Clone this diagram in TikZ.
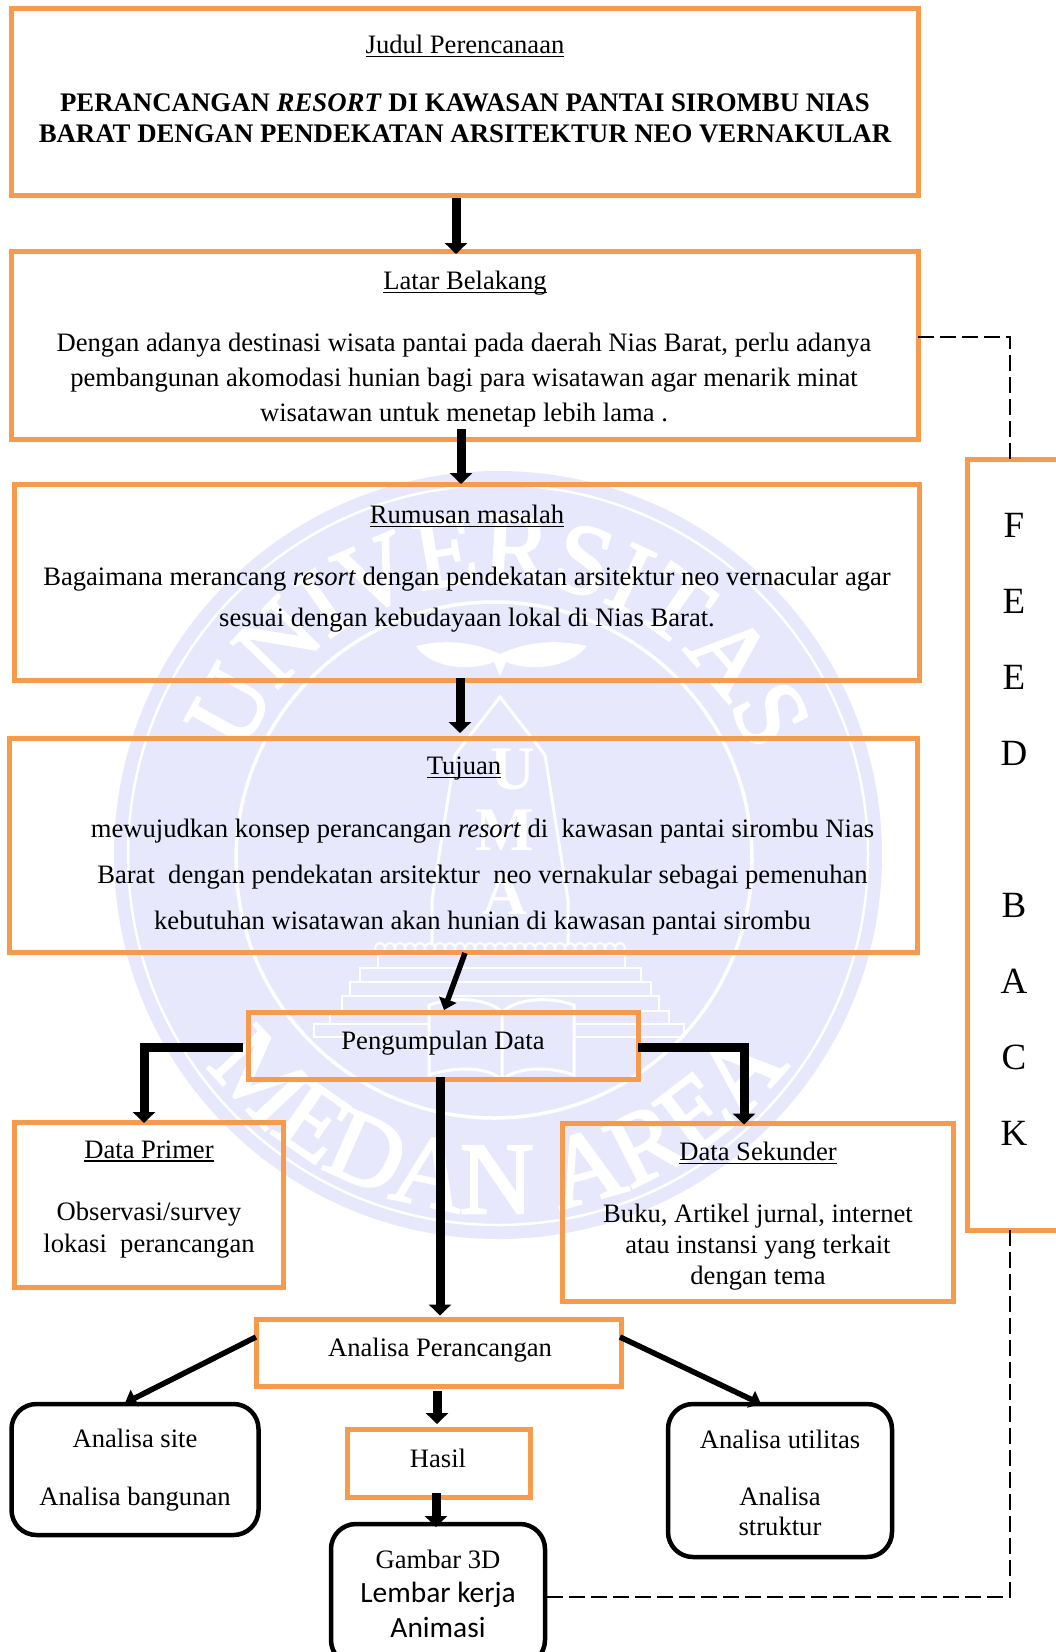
\documentclass[tikz,border=0pt]{standalone}
\usepackage{fontspec}
\setmainfont{Liberation Serif}
\newfontfamily\calibrifont{Carlito}
\newfontfamily\wmfont[FakeBold=2.5]{Liberation Serif}
\usetikzlibrary{arrows.meta,decorations.text}
\definecolor{boxorange}{HTML}{F79A4B}
\definecolor{wmark}{HTML}{E7E8FB}
\newcommand{\ulx}[1]{\setbox0\hbox{#1}\rlap{\rule[-3.4pt]{\wd0}{1.2pt}}\box0}
\newcommand{\fz}[2]{\fontsize{#1}{#2}\selectfont}
\tikzset{
  obox/.style={draw=boxorange,line width=5pt,inner sep=0pt,outer sep=0pt},
  rbox/.style={draw=black,line width=4.5pt,rounded corners=25pt,inner sep=0pt,outer sep=0pt},
  txt/.style={inner sep=0pt,outer sep=0pt,align=center,font=\fz{26.6}{35}},
  arr/.style={draw=black,line width=9pt,-{Triangle[length=11pt,width=22pt]}},
  thinarr/.style={draw=black,line width=5.5pt,-{Triangle[length=11pt,width=18pt]}},
  dashline/.style={draw=black,line width=2.2pt,dash pattern=on 16pt off 6pt},
  wline/.style={draw=white,line width=3pt}
}
\begin{document}
\begin{tikzpicture}[x=1pt,y=-1pt]
\useasboundingbox (0,0) rectangle (1056,1652);
\clip (0,0) rectangle (1056,1652);
\fill[white] (0,0) rectangle (1056,1652);
% watermark
\fill[wmark] (498,855) circle (384);
\draw[wline,line width=2.5pt] (498,855) circle (370);
\draw[wline,line width=3.5pt] (494,860) circle (258);
\path[decorate,decoration={text along path,text align=center,
  text={|\wmfont\fz{100}{100}\color{white}|UNIVERSITAS}}]
  (498pt,-855pt) ++(200:274pt) arc[start angle=200,end angle=-20,radius=274pt];
\path[decorate,decoration={text along path,text align=center,
  text={|\wmfont\fz{102}{102}\color{white}|MEDAN AREA}}]
  (498pt,-855pt) ++(190:358pt) arc[start angle=190,end angle=350,radius=358pt];
\fill[white] (500,654) .. controls (470,640) and (440,640) .. (416,646) .. controls (430,668) and (470,672) .. (494,662) -- (500,676) -- (506,662) .. controls (530,672) and (570,668) .. (587,646) .. controls (560,640) and (530,640) .. (500,654) -- cycle;
\draw[wline] (432,945) -- (432,900) -- (455,755) -- (500,697) -- (545,755) -- (568,900) -- (568,945);
\node[font=\fz{62}{62}\bfseries,text=white,inner sep=0pt] (wmu) at (513,769) {U};
\node[font=\fz{62}{62}\bfseries,text=white,inner sep=0pt] (wmm) at (505,830) {M};
\node[font=\fz{62}{62}\bfseries,text=white,inner sep=0pt] (wma) at (505,894) {A};
\foreach \i in {0,...,24} {\draw[white,line width=2pt] (380+\i*10,948) circle (5);}
\foreach \a/\b/\c/\d in {378/625/955/968,360/641/968/982,350/651/982/996,342/659/996/1011,330/669/1011/1024,314/684/1024/1037}
  {\draw[white,line width=2pt] (\a,\c) rectangle (\b,\d);}
\fill[wmark] (429,1000) rectangle (574,1078);
\draw[wline] (429,1005) .. controls (460,995) and (490,1000) .. (502,1012) .. controls (515,1000) and (545,995) .. (574,1005) -- (574,1075) .. controls (545,1065) and (515,1068) .. (502,1080) .. controls (490,1068) and (460,1065) .. (429,1075) -- cycle (502,1012) -- (502,1080);
% boxes
\node[obox,minimum width=907,minimum height=187] (judul) at (464.5,101.5) {};
\node[obox,minimum width=907,minimum height=188] (latar) at (464.5,345) {};
\node[obox,minimum width=905,minimum height=196] (rumusan) at (466.5,582) {};
\node[obox,minimum width=908,minimum height=214] (tujuan) at (463,845) {};
\node[obox,minimum width=390,minimum height=67] (peng) at (443,1045.5) {};
\node[obox,minimum width=269,minimum height=165] (primer) at (148.5,1204.5) {};
\node[obox,minimum width=391,minimum height=178] (sekunder) at (757.5,1212) {};
\node[obox,minimum width=103,minimum height=771] (fb) at (1018.5,844.5) {};
\node[obox,minimum width=365,minimum height=67] (analisa) at (438.5,1353) {};
\node[obox,minimum width=183,minimum height=68] (hasil) at (438.5,1463) {};
\node[rbox,minimum width=247,minimum height=131] (site) at (135,1469.5) {};
\node[rbox,minimum width=214,minimum height=141] (gambar) at (438,1594.5) {};
\node[rbox,minimum width=224,minimum height=153] (util) at (780,1480.5) {};
% texts
\node[txt] (tjudul) at (465,46) {\ulx{Judul Perencanaan}};
\node[txt,font=\fz{26.8}{31.5}\bfseries] (tjudulb) at (465,118.5) {PERANCANGAN \textit{RESORT} DI KAWASAN PANTAI SIROMBU NIAS\\BARAT DENGAN PENDEKATAN ARSITEKTUR NEO VERNAKULAR};
\node[txt] (tlatar) at (465,283.5) {\ulx{Latar Belakang}};
\node[txt] (tlatarb) at (464,380) {Dengan adanya destinasi wisata pantai pada daerah Nias Barat, perlu adanya\\pembangunan akomodasi hunian bagi para wisatawan agar menarik minat\\wisatawan untuk menetap lebih lama .};
\node[txt] (trum) at (467,516) {\ulx{Rumusan masalah}};
\node[txt,font=\fz{26.6}{41}] (trumb) at (467,600) {Bagaimana merancang \textit{resort} dengan pendekatan arsitektur neo vernacular agar\\sesuai dengan kebudayaan lokal di Nias Barat.};
\node[txt] (ttuj) at (464,769) {\ulx{Tujuan}};
\node[txt,font=\fz{26.6}{46}] (ttujb) at (482.5,877) {mewujudkan konsep perancangan \textit{resort} di\ \ kawasan pantai sirombu Nias\\Barat\ \ dengan pendekatan arsitektur\ \ neo vernakular sebagai pemenuhan\\kebutuhan wisatawan akan hunian di kawasan pantai sirombu};
\node[txt] (tpeng) at (443,1043) {Pengumpulan Data};
\node[txt] (tprim) at (149,1151) {\ulx{Data Primer}};
\node[txt,font=\fz{26.6}{32}] (tprimb) at (149,1230) {Observasi/survey\\lokasi\ \ perancangan};
\node[txt] (tsek) at (758,1153) {\ulx{Data Sekunder}};
\node[txt,font=\fz{26.6}{31}] (tsekb) at (758,1247) {Buku, Artikel jurnal, internet\\atau instansi yang terkait\\dengan tema};
\node[txt,font=\fz{37}{76}] (tfb) at (1014,829) {F\\E\\E\\D\\[0pt]\mbox{}\\B\\A\\C\\K};
\node[txt] (tana) at (440,1350) {Analisa Perancangan};
\node[txt] (thas) at (438,1458.5) {Hasil};
\node[txt,font=\fz{26.6}{58}] (tsite) at (135,1470.5) {Analisa site\\Analisa bangunan};
\node[txt] (tgam) at (438,1559) {Gambar 3D};
\node[txt,font=\fz{29.4}{35.5}\calibrifont] (tlem) at (438,1610) {Lembar kerja\\Animasi};
\node[txt,font=\fz{26.6}{57}] (tuti) at (780,1468) {Analisa utilitas\\Analisa};
\node[txt] (tstr) at (780,1526.5) {struktur};
% connectors
\draw[arr] ([shift={(-8.5,3)}]judul.south) -- ([shift={(-8.5,3)}]latar.north);
\draw[arr] ([shift={(-3.5,-10)}]latar.south) -- ([shift={(-5.5,0)}]rumusan.north);
\draw[arr] ([shift={(-6.5,-2)}]rumusan.south) -- ([shift={(-3,-5)}]tujuan.north);
\draw[thinarr] ([shift={(2,1)}]tujuan.south) -- ([shift={(1,-2)}]peng.north);
\draw[arr] ([shift={(-5,1.5)}]peng.west) -| ([shift={(-4.5,1)}]primer.north);
\draw[arr] ([shift={(0,1.5)}]peng.east) -| ([shift={(-13.5,1.5)}]sekunder.north);
\draw[arr] ([shift={(-3,-2)}]peng.south) -- ([shift={(1.5,-4)}]analisa.north);
\draw[thinarr] ([shift={(0,-16)}]analisa.west) -- ([shift={(-10,-1)}]site.north);
\draw[thinarr] ([shift={(-1,-16)}]analisa.east) -- ([shift={(-19,0)}]util.north);
\draw[arr] ([shift={(-1.5,4)}]analisa.south) -- ([shift={(-1.5,-5)}]hasil.north);
\draw[arr] ([shift={(-2.5,-4)}]hasil.south) -- ([shift={(-2,3)}]gambar.north);
\draw[dashline] ([shift={(0,-8)}]latar.east) -| ([shift={(-8.5,0)}]fb.north);
\draw[dashline] ([shift={(-8.5,0)}]fb.south) |- ([shift={(0,2.5)}]gambar.east);
\end{tikzpicture}
\end{document}
